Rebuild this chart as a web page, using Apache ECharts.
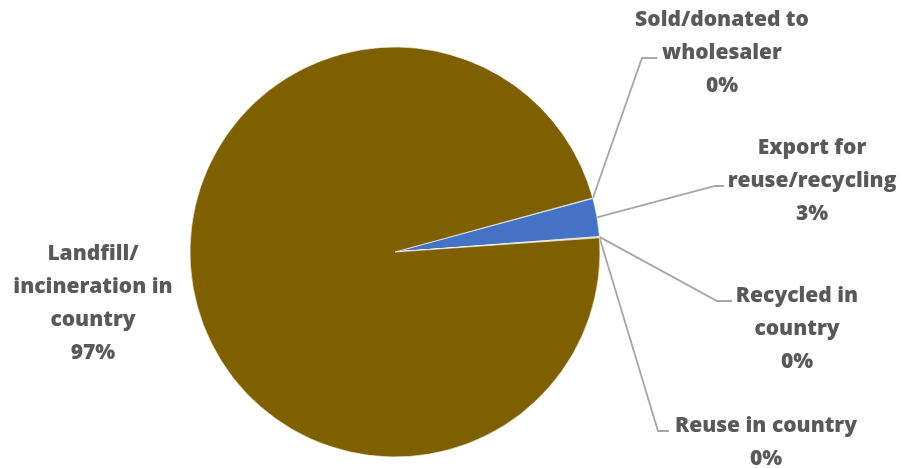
<!DOCTYPE html>
<html>
<head>
<meta charset="utf-8">
<script src="https://cdn.jsdelivr.net/npm/echarts@6/dist/echarts.min.js"></script>
<style>
html,body{margin:0;padding:0;background:#fff;}
#chart{width:902px;height:468px;}
</style>
</head>
<body>
<div id="chart"></div>
<script>
// Data (percent shares)
const categories = [
  'Sold/donated to\nwholesaler',
  'Export for\nreuse/recycling',
  'Recycled in\ncountry',
  'Reuse in country',
  'Landfill/\nincineration in\ncountry'
];
const values = [0.05, 3.0, 0.05, 0.05, 96.85];
const colors = ['#7F6000', '#4472C4', '#7F6000', '#7F6000', '#7F6000'];

// Label placement (style only): label centre and leader end offset
const labelPos = [
  {x: 722, y: 53, ex: -65, ey: 5, elbow: 15},
  {x: 812, y: 181, ex: -88, ey: 5, elbow: 9},
  {x: 797, y: 329, ex: -65, ey: -28, elbow: 15},
  {x: 766, y: 443, ex: -97, ey: -12, elbow: 11},
  {x: 93, y: 304, ex: 0, ey: 0, elbow: 0}
];

const chart = echarts.init(document.getElementById('chart'), null, {renderer: 'canvas'});
const total = values.reduce((a, b) => a + b, 0);

const option = {
  animation: false,
  backgroundColor: '#ffffff',
  series: [{
    type: 'pie',
    center: [395, 252],
    radius: 205,
    startAngle: 15.3,
    clockwise: true,
    avoidLabelOverlap: false,
    itemStyle: {borderColor: '#ffffff', borderWidth: 0.6},
    label: {
      show: true,
      position: 'outside',
      fontFamily: 'Open Sans',
      fontWeight: 800,
      fontSize: 21,
      lineHeight: 33,
      color: '#595959',
      align: 'center',
      formatter: function (p) {
        return p.name + '\n' + Math.round(p.value / total * 100) + '%';
      }
    },
    labelLine: {show: true, lineStyle: {color: '#A6A6A6', width: 1.8}},
    labelLayout: function (params) {
      const i = params.dataIndex;
      const lp = labelPos[i];
      const res = {x: lp.x, y: lp.y, align: 'center', verticalAlign: 'middle'};
      if (lp.elbow > 0) {
        const lay = chart.getModel().getSeriesByIndex(0).getData().getItemLayout(i);
        const a = (lay.startAngle + lay.endAngle) / 2;
        const sx = lay.cx + lay.r * Math.cos(a);
        const sy = lay.cy + lay.r * Math.sin(a);
        const ex = lp.x + lp.ex, ey = lp.y + lp.ey;
        res.labelLinePoints = [[sx, sy], [ex - lp.elbow, ey], [ex, ey]];
      }
      return res;
    },
    data: categories.map((c, i) => ({
      name: c,
      value: values[i],
      itemStyle: {color: colors[i]},
      labelLine: {show: i !== 4}
    }))
  }]
};
chart.setOption(option);
</script>
</body>
</html>
